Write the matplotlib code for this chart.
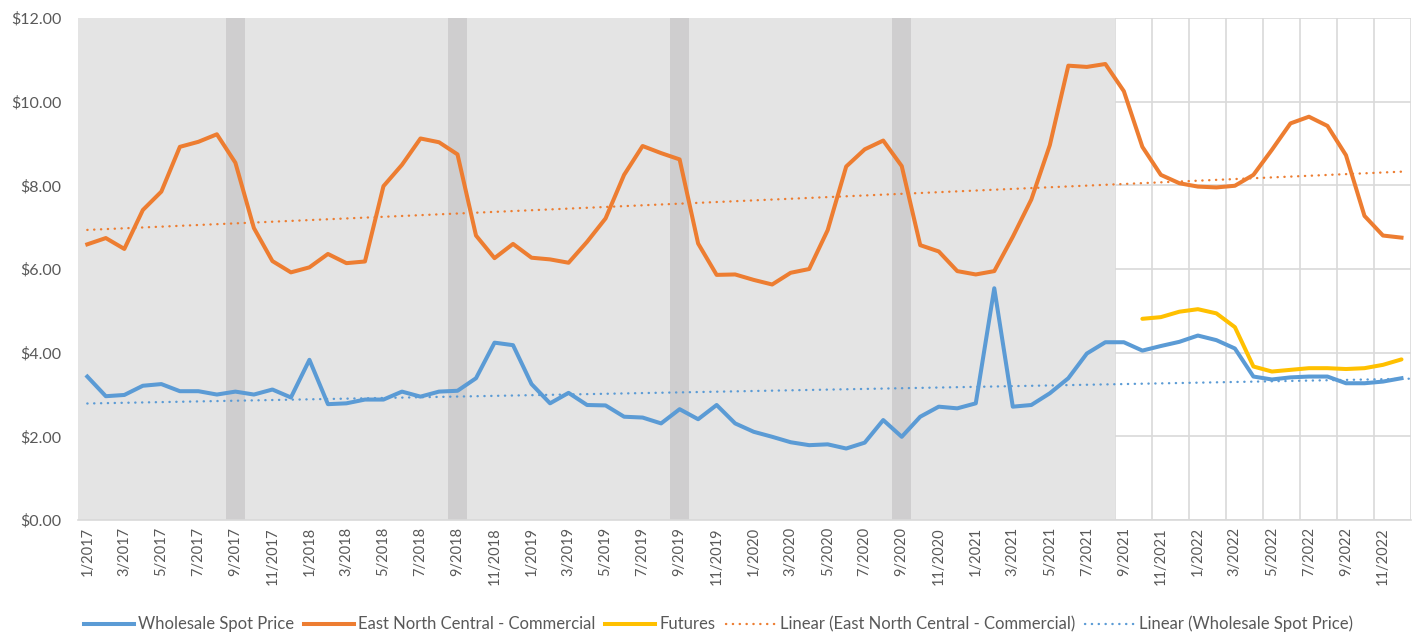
import matplotlib
matplotlib.use('Agg')
import matplotlib.pyplot as plt
from matplotlib.lines import Line2D
import numpy as np

# monthly labels 1/2017 .. 12/2022
months = []
for year in range(2017, 2023):
    for m in range(1, 13):
        months.append("%d/%d" % (m, year))

wholesale = [3.43, 2.96, 2.99, 3.21, 3.25, 3.08, 3.08, 3.00, 3.07, 3.00, 3.12, 2.93,
             3.83, 2.77, 2.79, 2.88, 2.88, 3.07, 2.95, 3.07, 3.09, 3.39, 4.24, 4.18,
             3.25, 2.79, 3.04, 2.75, 2.74, 2.47, 2.45, 2.31, 2.65, 2.41, 2.75, 2.31,
             2.11, 1.99, 1.86, 1.79, 1.81, 1.71, 1.85, 2.39, 1.99, 2.47, 2.71, 2.67,
             2.79, 5.54, 2.71, 2.75, 3.03, 3.39, 3.98, 4.25, 4.25, 4.05, 4.16, 4.26,
             4.41, 4.30, 4.10, 3.43, 3.36, 3.41, 3.43, 3.43, 3.27, 3.27, 3.31, 3.39]

enc_commercial = [6.59, 6.74, 6.48, 7.41, 7.85, 8.92, 9.04, 9.22, 8.54, 6.98, 6.19, 5.92,
                  6.04, 6.36, 6.14, 6.18, 7.98, 8.49, 9.12, 9.03, 8.74, 6.80, 6.26, 6.60,
                  6.27, 6.23, 6.15, 6.65, 7.21, 8.25, 8.94, 8.77, 8.62, 6.61, 5.86, 5.87,
                  5.74, 5.63, 5.91, 6.00, 6.93, 8.45, 8.86, 9.07, 8.46, 6.57, 6.42, 5.95,
                  5.87, 5.95, 6.77, 7.66, 8.96, 10.86, 10.83, 10.90, 10.25, 8.92, 8.25, 8.05,
                  7.97, 7.95, 7.99, 8.25, 8.85, 9.48, 9.64, 9.42, 8.72, 7.27, 6.80, 6.75]

futures_start = "10/2021"
futures = [4.81, 4.85, 4.98, 5.04, 4.94, 4.61, 3.67, 3.55, 3.59, 3.63, 3.63, 3.61,
           3.63, 3.71, 3.84]

# shaded history (up to 8/2021) and the darker september bands
history_end = "8/2021"
sept_bands = ["9/2017", "9/2018", "9/2019", "9/2020"]

blue = '#5B9BD5'
orange = '#ED7D31'
yellow = '#FFC000'
txt = '#595959'

plt.rcParams['font.family'] = ['Lato', 'DejaVu Sans']

fig = plt.figure(figsize=(14.14, 6.35), dpi=100)
ax = fig.add_axes([0.0552, 0.181, 0.9425, 0.7907])

x = np.arange(len(months))
fx = np.arange(len(futures)) + months.index(futures_start)

# background shading
ax.axvspan(-0.5, months.index(history_end) + 0.5, color='#E4E4E4', zorder=1, lw=0)
for s in sept_bands:
    i = months.index(s)
    ax.axvspan(i - 0.5, i + 0.5, color='#CFCECF', zorder=1.1, lw=0)

# gridlines (only visible in the white part)
ax.set_axisbelow(True)
ax.yaxis.grid(True, color='#D9D9D9', lw=1.2)
for gx in np.arange(months.index(history_end) + 0.5, len(months), 2):
    ax.axvline(gx, color='#D9D9D9', lw=1.2, zorder=0.5)

ax.plot(x, wholesale, color=blue, lw=2.9, zorder=3, solid_joinstyle='round')
ax.plot(x, enc_commercial, color=orange, lw=2.9, zorder=3, solid_joinstyle='round')
ax.plot(fx, futures, color=yellow, lw=2.9, zorder=3, solid_joinstyle='round',
        solid_capstyle='round')

# linear trendlines
dots = (0, (0.1, 2.8))
p1 = np.polyfit(x, enc_commercial, 1)
ax.plot(x, np.polyval(p1, x), color=orange, lw=1.7, ls=dots, dash_capstyle='round', zorder=2.5)
p2 = np.polyfit(x, wholesale, 1)
xt = np.append(x, len(months) + 0.5)
ax.plot(xt, np.polyval(p2, xt), color=blue, lw=1.7, ls=dots, dash_capstyle='round',
        zorder=2.5, clip_on=False)

ax.set_xlim(-0.5, len(months) - 0.5)
ax.set_ylim(0, 12)
ax.set_yticks(np.arange(0, 13, 2))
ax.set_yticklabels(["$%.2f" % v for v in np.arange(0, 13, 2)])
ax.set_xticks(x[::2])
ax.set_xticklabels(months[::2], rotation=90)
ax.tick_params(axis='both', length=0, colors=txt, labelsize=10.5)
ax.tick_params(axis='y', pad=12, labelsize=11.5)
ax.tick_params(axis='x', pad=5)

for sp in ['top', 'right', 'left']:
    ax.spines[sp].set_visible(False)
ax.spines['bottom'].set_color('#D9D9D9')
ax.spines['bottom'].set_linewidth(1.2)

handles = [Line2D([], [], color=blue, lw=2.9),
           Line2D([], [], color=orange, lw=2.9),
           Line2D([], [], color=yellow, lw=2.9),
           Line2D([], [], color=orange, lw=1.7, ls=dots, dash_capstyle='round'),
           Line2D([], [], color=blue, lw=1.7, ls=dots, dash_capstyle='round')]
labels = ['Wholesale Spot Price', 'East North Central - Commercial', 'Futures',
          'Linear (East North Central - Commercial)', 'Linear (Wholesale Spot Price)']
leg = fig.legend(handles, labels, loc='center', bbox_to_anchor=(0.508, 0.017), ncol=5,
                 frameon=False, fontsize=12, handlelength=3.0, handletextpad=0.25,
                 columnspacing=0.6)
for t in leg.get_texts():
    t.set_color(txt)

plt.savefig('out.png', dpi=100)
plt.close('all')
